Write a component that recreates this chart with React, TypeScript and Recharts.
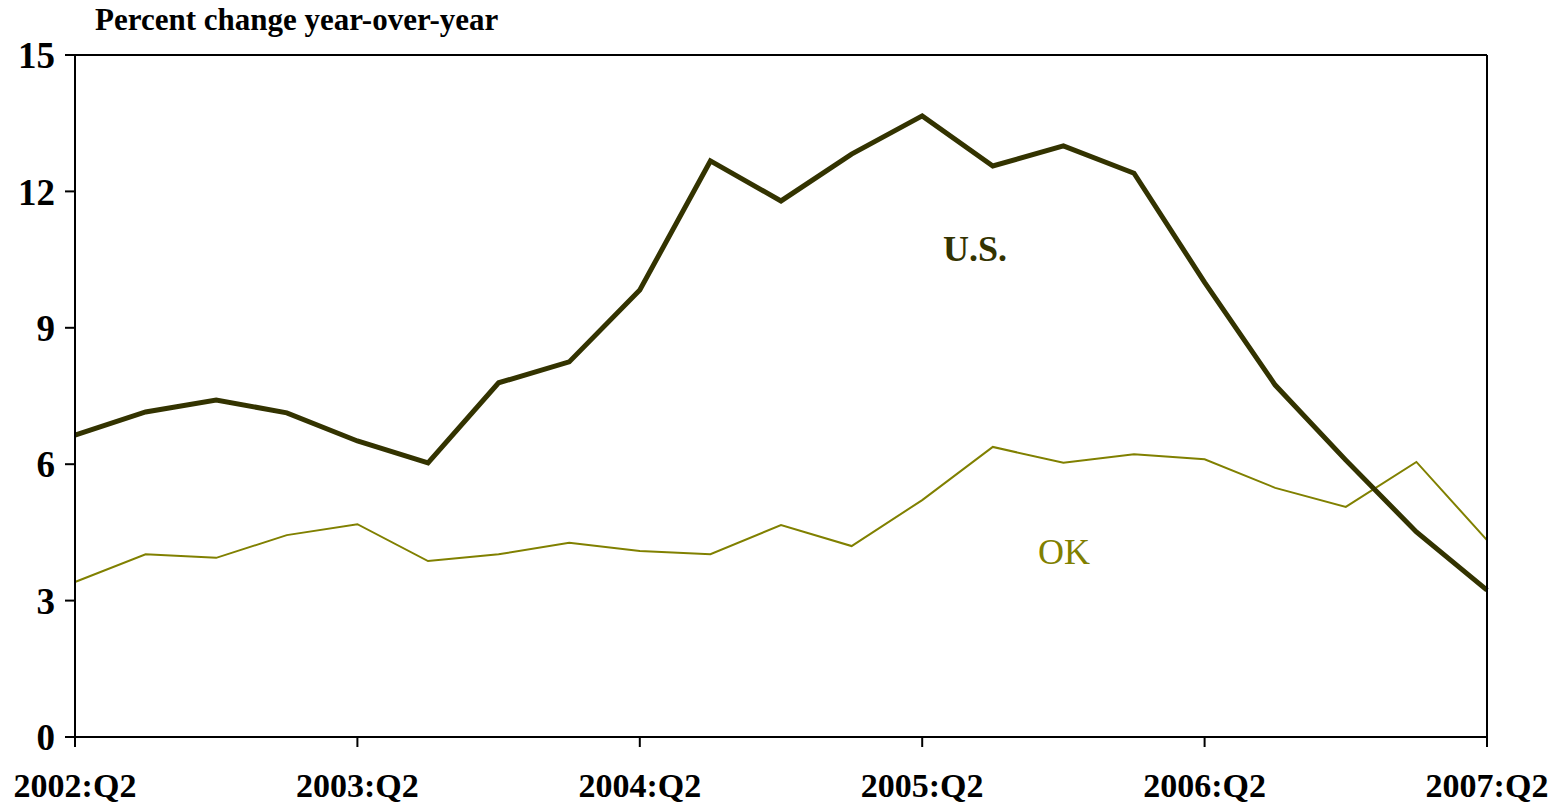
import { LineChart, Line, XAxis, YAxis, ReferenceLine } from 'recharts';

const quarters = [
  '2002:Q2', '2002:Q3', '2002:Q4', '2003:Q1',
  '2003:Q2', '2003:Q3', '2003:Q4', '2004:Q1',
  '2004:Q2', '2004:Q3', '2004:Q4', '2005:Q1',
  '2005:Q2', '2005:Q3', '2005:Q4', '2006:Q1',
  '2006:Q2', '2006:Q3', '2006:Q4', '2007:Q1',
  '2007:Q2',
];

const us = [
  6.64, 7.15, 7.41, 7.13, 6.51, 6.03, 7.79, 8.25, 9.83, 12.67, 11.79,
  12.82, 13.66, 12.56, 13.0, 12.4, 10.0, 7.74, 6.09, 4.51, 3.23,
];

const ok = [
  3.41, 4.02, 3.94, 4.44, 4.68, 3.87, 4.02, 4.27, 4.09, 4.02, 4.66,
  4.2, 5.21, 6.38, 6.03, 6.22, 6.11, 5.48, 5.06, 6.05, 4.33,
];

const yTicks = [0, 3, 6, 9, 12, 15];

const data = quarters.map((q, i) => ({ q, us: us[i], ok: ok[i] }));

const font = '"Liberation Serif", "Times New Roman", serif';
const xTickStyle = { fontFamily: font, fontSize: 34, fontWeight: 700, fill: '#000' };
const yTickStyle = { fontFamily: font, fontSize: 37, fontWeight: 700, fill: '#000' };

export default function App() {
  return (
    <div style={{ position: 'absolute', left: 0, top: 0, width: 1565, height: 806, background: '#fff' }}>
      <LineChart
        width={1565}
        height={806}
        data={data}
        margin={{ top: 55, right: 0, bottom: 0, left: 0 }}
      >
        <ReferenceLine yAxisId="left" y={15} stroke="#000" strokeWidth={2} />
        <XAxis
          dataKey="q"
          height={69}
          interval={3}
          tickSize={10}
          tickMargin={26}
          stroke="#000"
          strokeWidth={2}
          tick={xTickStyle}
        />
        <YAxis
          yAxisId="left"
          width={75}
          domain={[0, 15]}
          ticks={yTicks}
          tickSize={10}
          tickMargin={10}
          stroke="#000"
          strokeWidth={2}
          tick={yTickStyle}
        />
        <YAxis
          yAxisId="right"
          orientation="right"
          width={78}
          domain={[0, 15]}
          ticks={yTicks}
          tickSize={10}
          tickMargin={16}
          stroke="#000"
          strokeWidth={2}
          tick={yTickStyle}
        />
        <Line
          yAxisId="left"
          dataKey="ok"
          stroke="#808000"
          strokeWidth={2}
          dot={false}
          isAnimationActive={false}
        />
        <Line
          yAxisId="left"
          dataKey="us"
          stroke="#333300"
          strokeWidth={5}
          dot={false}
          isAnimationActive={false}
        />
      </LineChart>
      <div
        style={{
          position: 'absolute',
          left: 95,
          top: 2,
          fontFamily: font,
          fontSize: 31,
          fontWeight: 700,
          color: '#000',
          whiteSpace: 'nowrap',
        }}
      >
        Percent change year-over-year
      </div>
      <div
        style={{
          position: 'absolute',
          left: 943,
          top: 228,
          fontFamily: font,
          fontSize: 36,
          fontWeight: 700,
          color: '#333300',
        }}
      >
        U.S.
      </div>
      <div
        style={{
          position: 'absolute',
          left: 1038,
          top: 531,
          fontFamily: font,
          fontSize: 36,
          color: '#808000',
        }}
      >
        OK
      </div>
    </div>
  );
}
